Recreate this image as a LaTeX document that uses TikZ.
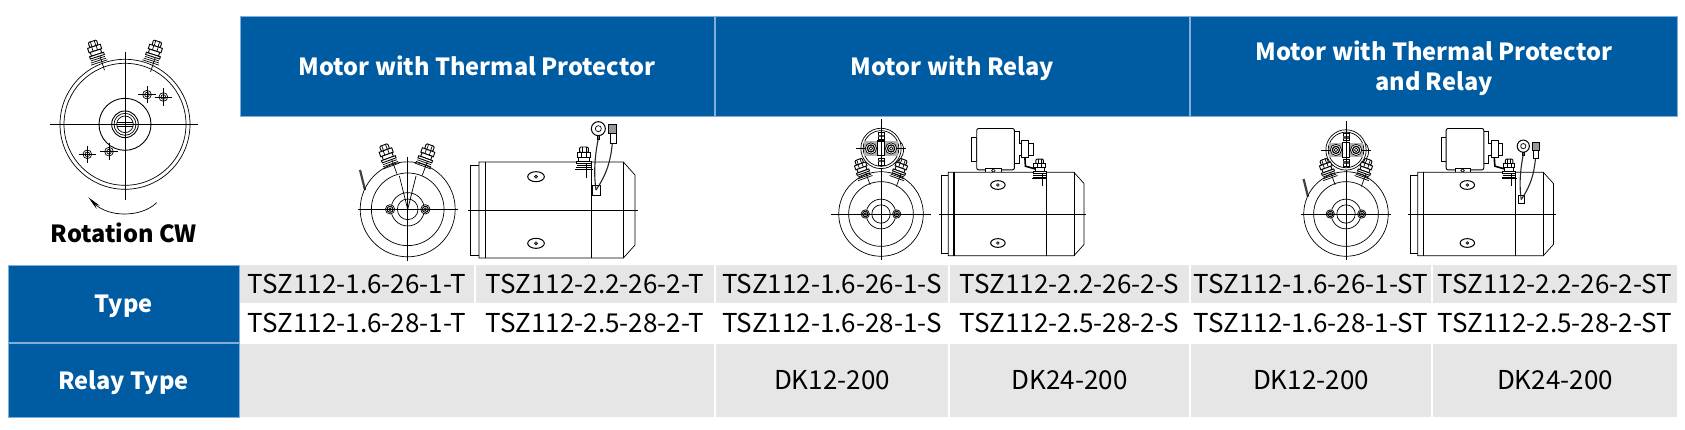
\documentclass[tikz,border=0pt]{standalone}
\usepackage{fontspec}
\setmainfont{Noto Sans CJK SC}
\usepackage{xcolor}
\definecolor{headblue}{RGB}{0,92,162}
\definecolor{edgeblue}{RGB}{130,175,215}
\definecolor{cellgray}{RGB}{229,230,229}
\usetikzlibrary{arrows.meta}

% one terminal post: x, y, angle
\newcommand{\motorterminal}[3]{
  \begin{scope}[shift={(#1,#2)},rotate=#3]
    \draw[line width=0.9pt,fill=white,rounded corners=1pt] (-13,-36) rectangle (13,-20);
    \draw[motorline] (-6,-36) -- (-6,-20);
    \draw[motorline] (6,-36) -- (6,-20);
    \draw[line width=0.9pt,fill=white] (-20,-20) rectangle (20,-6);
    \draw[motorline] (-7,-20) -- (-7,-6);
    \draw[motorline] (7,-20) -- (7,-6);
    \draw[line width=0.9pt,fill=white] (-16,-6) rectangle (16,6);
    \draw[line width=0.9pt,fill=white] (-22,6) rectangle (22,13);
    \draw[motorline] (-22,19) -- (22,19);
    \draw[motorline] (-24,25) -- (24,25);
    \draw[motorline] (-26,31) -- (26,31);
    \draw[motorline] (8,13) -- (8,58);
  \end{scope}
}
% end view of the motor
\newcommand{\motorfront}[1]{
  \draw[motorline] (0,0) circle (142.5);
  \draw[motorline] (0,0) circle (109);
  \draw[motorline] (0,0) circle (50);
  \draw[motorline] (0,0) circle (31);
  \foreach \side in {-1,1} {
    \draw[motorline,fill=white] (\side*53,0) circle (14);
    \draw[line width=1pt] (\side*53,0) circle (9);
    \draw[motorline] (\side*53,0) circle (4);
  }
  \draw[motorline] (-#1,0) -- (#1,0);
  \draw[motorline] (0,-158) -- (0,154);
}
\newcommand{\motorwire}{
  \draw[line width=2.2pt,black!75] (-143,-118) -- (-128,-58);
}
% side view of the motor
\newcommand{\motorside}{
  \draw[motorline] (0,-135) -- (-25,-135) -- (-25,137) -- (0,137);
  \draw[motorline,fill=white] (0,-144) -- (433,-144) -- (468,-105) -- (468,105) -- (433,144) -- (0,144) -- cycle;
  \draw[line width=1.4pt] (20,-144) -- (20,144);
  \draw[motorline] (338,-144) -- (338,144);
  \draw[motorline] (433,-144) -- (433,144);
  \draw[motorline] (-32,0) -- (476,0);
  \foreach \ypos in {-100,100} {
    \draw[line width=1pt] (171,\ypos) ellipse (25 and 15);
    \draw[fill=black!60] (171,\ypos) circle (5);
  }
  \motorterminal{315}{-153}{0}
}
% ring and spade leads on the side view
\newcommand{\motorleads}{
  \draw[line width=1pt] (341,-75) rectangle (363,-45);
  \draw[line width=1.1pt,black!85] (351,-60) .. controls (345,-100) and (345,-150) .. (358,-215);
  \draw[line width=1.1pt,black!85] (351,-60) .. controls (385,-110) and (395,-150) .. (400,-200);
  \draw[line width=1pt,fill=white] (358,-244) circle (21);
  \draw[motorline] (358,-244) circle (9);
  \draw[fill=black!60] (354,-224) rectangle (362,-212);
  \draw[motorline,fill=black!40] (389,-258) rectangle (413,-230);
  \draw[line width=1pt,fill=white] (393,-230) rectangle (411,-200);
}
% relay on top of the side view
\newcommand{\motorrelayside}{
  \draw[motorline] (80,-266) rectangle (98,-180);
  \draw[line width=0.9pt,fill=white,rounded corners=2pt] (98,-295) rectangle (228,-152);
  \draw[motorline] (228,-284) -- (245,-284) -- (245,-244) -- (253,-244) -- (253,-203) -- (245,-203) -- (245,-175) -- (228,-175);
  \draw[line width=0.9pt,fill=white] (253,-252) rectangle (278,-195);
  \draw[line width=0.9pt,fill=white] (278,-244) rectangle (293,-203);
  \draw[line width=0.9pt,fill=white] (129,-158) -- (182,-158) -- (182,-123) -- (170,-123) -- (170,-142) -- (141,-142) -- (141,-123) -- (129,-123) -- cycle;
  \draw[motorline] (155,-150) circle (6);
  \draw[line width=1.6pt] (264,-195) -- (266,-165) -- (304,-154);
}
% relay seen from the end
\newcommand{\motorrelayfront}[1]{
  \begin{scope}[shift={(0,#1)}]
    \draw[motorline,fill=white] (55,-30) .. controls (85,-15) and (85,30) .. (45,50);
    \draw[motorline,fill=white] (0,0) circle (68);
    \draw[motorline] (0,0) circle (60);
    \fill[black!30] (-56,-24) rectangle (56,24);
    \draw[motorline] (-85,0) -- (85,0);
    \draw[line width=1.2pt,fill=white] (-13,-25) rectangle (13,25);
    \foreach \side in {-1,1} {
      \draw[motorline,fill=white] (\side*34,0) circle (19);
      \draw[line width=1.2pt] (\side*34,0) circle (12);
      \draw[motorline] (\side*34,0) circle (6);
    }
    \draw[fill=white] (-10,-55) rectangle (10,-32);
    \fill[black!70] (-10,-46) rectangle (10,-38);
    \draw[fill=white] (-10,32) rectangle (10,55);
    \fill[black!70] (-10,38) rectangle (10,46);
  \end{scope}
}

\begin{document}
\begin{tikzpicture}[x=1pt,y=-1pt]
    \tikzstyle{bluecell}=[rectangle,fill=headblue,draw=edgeblue,line width=0.6pt,text=white,text depth=0pt,font=\bfseries\fontsize{23.6}{30}\selectfont,align=center,inner sep=0pt]
    \tikzstyle{graycell}=[rectangle,fill=cellgray,inner sep=0pt,text height=22pt,text depth=3.4pt,font=\fontsize{26}{30}\selectfont]
    \tikzstyle{whitecell}=[rectangle,fill=white,inner sep=0pt,text height=22pt,text depth=3.4pt,font=\fontsize{26}{30}\selectfont]
    \tikzstyle{motorline}=[line width=0.7pt,black]
    \useasboundingbox (0,0) rectangle (1685,429);

    % header row
    \node[bluecell,minimum width=474pt,minimum height=100pt] (headthermal) at (477,66) {Motor with Thermal Protector};
    \node[bluecell,minimum width=474pt,minimum height=100pt] (headrelay) at (952.5,66) {Motor with Relay};
    \node[bluecell,minimum width=487pt,minimum height=100pt] (headboth) at (1434,66) {Motor with Thermal Protector\\and Relay};

    % left column
    \node[bluecell,minimum width=231pt,minimum height=77pt] (rowtype) at (123.5,303.5) {Type};
    \node[bluecell,minimum width=231pt,minimum height=74pt] (rowrelay) at (123.5,380) {Relay Type};
    \node[font=\bfseries\fontsize{23.6}{30}\selectfont,inner sep=0pt] (rotlabel) at (124,233) {Rotation CW};

    % type rows
    \node[graycell,minimum width=234pt,minimum height=38pt] (typeaone) at (357,284) {TSZ112-1.6-26-1-T};
    \node[graycell,minimum width=238pt,minimum height=38pt] (typeatwo) at (595,284) {TSZ112-2.2-26-2-T};
    \node[graycell,minimum width=232pt,minimum height=38pt] (typebone) at (832,284) {TSZ112-1.6-26-1-S};
    \node[graycell,minimum width=239pt,minimum height=38pt] (typebtwo) at (1069.5,284) {TSZ112-2.2-26-2-S};
    \node[graycell,minimum width=240pt,minimum height=38pt] (typecone) at (1311,284) {TSZ112-1.6-26-1-ST};
    \node[graycell,minimum width=244pt,minimum height=38pt] (typectwo) at (1555,284) {TSZ112-2.2-26-2-ST};
    \node[whitecell,minimum width=234pt,minimum height=38pt] (typedone) at (357,323) {TSZ112-1.6-28-1-T};
    \node[whitecell,minimum width=238pt,minimum height=38pt] (typedtwo) at (595,323) {TSZ112-2.5-28-2-T};
    \node[whitecell,minimum width=232pt,minimum height=38pt] (typeeone) at (832,323) {TSZ112-1.6-28-1-S};
    \node[whitecell,minimum width=239pt,minimum height=38pt] (typeetwo) at (1069.5,323) {TSZ112-2.5-28-2-S};
    \node[whitecell,minimum width=240pt,minimum height=38pt] (typefone) at (1311,323) {TSZ112-1.6-28-1-ST};
    \node[whitecell,minimum width=244pt,minimum height=38pt] (typeftwo) at (1555,323) {TSZ112-2.5-28-2-ST};

    % relay row
    \node[graycell,minimum width=474pt,minimum height=73pt] (relaynone) at (477,380) {};
    \node[graycell,minimum width=232pt,minimum height=73pt] (relaybone) at (832,380) {DK12-200};
    \node[graycell,minimum width=239pt,minimum height=73pt] (relaybtwo) at (1069.5,380) {DK24-200};
    \node[graycell,minimum width=240pt,minimum height=73pt] (relaycone) at (1311,380) {DK12-200};
    \node[graycell,minimum width=244pt,minimum height=73pt] (relayctwo) at (1555,380) {DK24-200};

    % rotation sketch
    \begin{scope}[shift={(125,124.3)},scale=1/3]
      \draw[motorline] (0,0) circle (195);
      \draw[motorline] (0,0) circle (183);
      \draw[line width=0.9pt] (0,0) circle (78);
      \draw[line width=0.9pt] (0,0) circle (40);
      \draw[motorline] (0,0) circle (33);
      \draw[motorline] (0,0) circle (25);
      \draw[motorline] (-25,-7) -- (25,-7);
      \draw[motorline] (-25,7) -- (25,7);
      \draw[motorline] (-225,0) -- (220,0);
      \draw[motorline] (0,-218) -- (0,228);
      \draw[line width=1.4pt] (-175,0) -- (-137,0);
      \draw[line width=1.4pt] (140,0) -- (180,0);
      \foreach \xpos/\ypos in {66/-89,115/-82,-113/90,-48/82} {
        \draw[motorline] (\xpos,\ypos) circle (13);
        \draw[motorline] (\xpos,\ypos) circle (7);
        \draw[motorline] (\xpos-26,\ypos) -- (\xpos+26,\ypos);
        \draw[motorline] (\xpos,\ypos-26) -- (\xpos,\ypos+26);
      }
      \motorterminal{-87}{-215}{18}
      \motorterminal{87}{-215}{-18}
      \coordinate (rotstart) at (95,235);
      \coordinate (rotend) at (-110,219);
      \draw[motorline,-{Stealth[length=14pt,width=4.5pt]}] (rotstart) .. controls (50,280) and (-50,280) .. (rotend);
    \end{scope}

    % thermal protector views
    \begin{scope}[shift={(407.7,209.3)},scale=1/3]
      \motorwire
      \motorfront{150}
      \draw[motorline] (0,0) -- (-25,-100);
      \draw[motorline] (0,0) -- (25,-100);
      \motorterminal{-60}{-159}{20}
      \motorterminal{56}{-159}{-20}
    \end{scope}
    \begin{scope}[shift={(479,210)},scale=1/3]
      \motorside
      \motorleads
    \end{scope}

    % relay views
    \begin{scope}[shift={(881,214)},scale=0.89/3]
      \motorfront{169}
      \motorrelayfront{-221}
      \draw[motorline] (0,-320) -- (0,-158);
      \motorterminal{-64}{-150}{20}
      \motorterminal{64}{-150}{-20}
    \end{scope}
    \begin{scope}[shift={(948.3,214)},scale=0.29]
      \motorrelayside
      \motorside
    \end{scope}

    % thermal protector and relay views
    \begin{scope}[shift={(1346,214)},scale=0.89/3]
      \motorwire
      \motorfront{152}
      \motorrelayfront{-216}
      \draw[motorline] (0,-312) -- (0,-158);
      \motorterminal{-64}{-150}{20}
      \motorterminal{64}{-150}{-20}
    \end{scope}
    \begin{scope}[shift={(1417.7,214)},scale=0.29]
      \motorrelayside
      \motorside
      \begin{scope}[shift={(6,10)}]
        \motorleads
      \end{scope}
    \end{scope}
\end{tikzpicture}
\end{document}
